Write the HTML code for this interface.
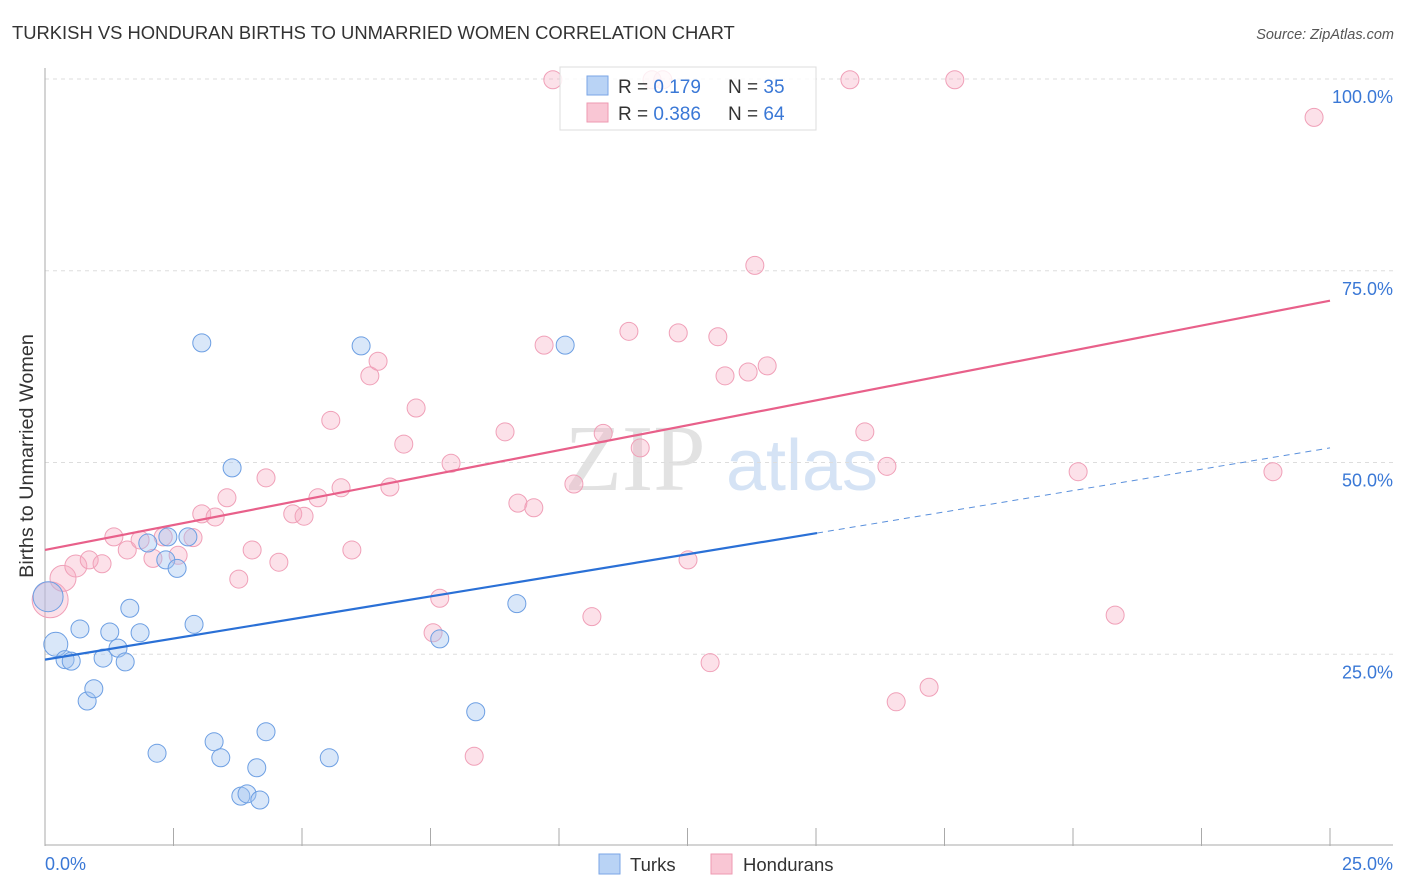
<!DOCTYPE html>
<html><head><meta charset="utf-8"><style>
body{margin:0;background:#fff;font-family:"Liberation Sans",sans-serif;}
svg{display:block}
</style></head><body>
<svg width="1406" height="892">
<text x="12" y="39" font-size="18.4" fill="#333">TURKISH VS HONDURAN BIRTHS TO UNMARRIED WOMEN CORRELATION CHART</text>
<text x="1394" y="39" font-size="14.5" fill="#555" font-style="italic" text-anchor="end">Source: ZipAtlas.com</text>
<g>
<text x="635" y="490" font-size="94" fill="#e2e2e2" font-family="Liberation Serif" text-anchor="middle">ZIP</text>
<text x="802" y="490" font-size="72" fill="#d5e3f5" text-anchor="middle">atlas</text>
</g>
<g id="grid"></g>
<line x1="45" y1="68" x2="45" y2="846" stroke="#aaa"/>
<line x1="45" y1="845" x2="1393" y2="845" stroke="#aaa"/>
<g id="xticks"></g>
<text x="33" y="456" font-size="19.8" fill="#333" transform="rotate(-90 33 456)" text-anchor="middle">Births to Unmarried Women</text>
<text x="45" y="870" font-size="18" fill="#3a78d6">0.0%</text>
<text x="1393" y="870" font-size="18" fill="#3a78d6" text-anchor="end">25.0%</text>
<g id="pts"></g>
<g id="lines"></g>
<g>
<rect x="560" y="67" width="256" height="63" fill="rgba(255,255,255,0.82)" stroke="#ddd"/>
<rect x="587" y="76" width="21" height="19" fill="#b9d3f5" stroke="#7aa6e6"/>
<rect x="587" y="103" width="21" height="19" fill="#f9c6d4" stroke="#ee9ab2"/>
<text x="618" y="93" font-size="19" fill="#333">R = <tspan fill="#3a78d6"> 0.179</tspan><tspan x="728">N = </tspan><tspan fill="#3a78d6">35</tspan></text>
<text x="618" y="120" font-size="19" fill="#333">R = <tspan fill="#3a78d6">0.386</tspan><tspan x="728">N = </tspan><tspan fill="#3a78d6">64</tspan></text>
</g>
<g>
<rect x="599" y="854" width="21" height="20" fill="#b9d3f5" stroke="#7aa6e6"/>
<text x="630" y="871" font-size="18.5" fill="#333">Turks</text>
<rect x="711" y="854" width="21" height="20" fill="#f9c6d4" stroke="#ee9ab2"/>
<text x="743" y="871" font-size="18.5" fill="#333">Hondurans</text>
</g>
</svg>
<script>
const yTicks=[25,50,75,100];
const yTickLabels=["25.0%","50.0%","75.0%","100.0%"];
const xTicks=[2.5,5,7.5,10,12.5,15,17.5,20,22.5,25];
const turksX=[0.06,0.21,0.39,0.51,0.68,0.82,0.95,1.13,1.26,1.42,1.56,1.65,1.85,2.0,2.35,2.39,2.57,2.78,2.9,3.05,3.29,3.42,3.64,3.81,3.93,4.12,4.18,4.3,2.18,5.53,6.15,7.68,8.38,9.18,10.12];
const turksY=[32.5,26.3,24.3,24.1,28.3,18.9,20.5,24.5,27.9,25.8,24.0,31.0,27.8,39.5,37.3,40.3,36.2,40.3,28.9,65.6,13.6,11.5,49.3,6.5,6.8,10.2,6.0,14.9,12.1,11.5,65.2,27.0,17.5,31.6,65.3];
const hondX=[0.1,0.35,0.6,0.86,1.11,1.34,1.6,1.85,2.1,2.3,2.59,2.88,3.05,3.31,3.54,3.77,4.03,4.3,4.55,4.82,5.04,5.31,5.56,5.76,5.97,6.32,6.48,6.71,6.98,7.22,7.55,7.68,7.9,8.35,8.95,9.2,9.51,9.71,9.88,10.29,10.64,10.86,11.36,11.58,11.81,12.02,12.32,12.51,12.94,13.09,13.23,13.68,13.81,14.05,15.66,15.95,16.38,16.56,17.2,17.7,20.1,20.82,23.89,24.69];
const hondY=[32.1,34.9,36.5,37.3,36.8,40.3,38.6,39.9,37.5,40.3,37.9,40.2,43.3,42.9,45.4,34.8,38.6,48.0,37.0,43.3,43.0,45.4,55.5,46.7,38.6,61.3,63.2,46.8,52.4,57.1,27.8,32.3,49.9,11.7,54.0,44.7,44.1,65.3,99.9,47.2,29.9,53.8,67.1,51.9,99.9,99.9,66.9,37.3,23.9,66.4,61.3,61.8,75.7,62.6,99.9,54.0,49.5,18.8,20.7,99.9,48.8,30.1,48.8,95.0];
const turksTrend=[24.3,40.8,51.9];
const hondTrend=[38.6,71.1];
const NS="http://www.w3.org/2000/svg";
const X=v=>45+v*1285/25, Y=v=>846-v*7.67;
function mk(t,a,p){const e=document.createElementNS(NS,t);for(const k in a)e.setAttribute(k,a[k]);p.appendChild(e);return e;}
const grid=document.getElementById('grid');
yTicks.forEach((t,i)=>{
 const l=mk('line',{x1:45,x2:1393,y1:Y(t),y2:Y(t),stroke:'#ddd','stroke-dasharray':'4,4'},grid);
 
 
 const tx=mk('text',{x:1393,y:Y(t)+24,'font-size':18,fill:'#3a78d6','text-anchor':'end'},grid);
 tx.textContent=yTickLabels[i];
 
 
});
const xt=document.getElementById('xticks');
xTicks.forEach(t=>{
 const l=mk('line',{x1:X(t),x2:X(t),y1:828,y2:846,stroke:'#aaa'},xt);
 
 
});
const pts=document.getElementById('pts');
hondX.forEach((x,i)=>{
 const c=mk('circle',{cx:X(x),cy:Y(hondY[i]),r:x<0.2?18:(x<0.4?13:(x<0.7?11:9)),fill:'rgba(246,168,192,0.35)',stroke:'#f0a0b8','stroke-width':1},pts);
 
 
});
turksX.forEach((x,i)=>{
 const c=mk('circle',{cx:X(x),cy:Y(turksY[i]),r:x<0.1?15:(x<0.3?12:9),fill:'rgba(160,195,240,0.4)',stroke:'#6d9fe3','stroke-width':1},pts);
 
 
});
const ln=document.getElementById('lines');
let a=mk('line',{x1:X(0),y1:Y(hondTrend[0]),x2:X(25),y2:Y(hondTrend[1]),stroke:'#e8608a','stroke-width':2.2},ln);


let b=mk('line',{x1:X(0),y1:Y(turksTrend[0]),x2:X(15.02),y2:Y(turksTrend[1]),stroke:'#2a70d6','stroke-width':2.2},ln);


let c=mk('line',{x1:X(15.02),y1:Y(turksTrend[1]),x2:X(25),y2:Y(turksTrend[2]),stroke:'#5a90dc','stroke-width':1,'stroke-dasharray':'6,5'},ln);


</script>
</body></html>
